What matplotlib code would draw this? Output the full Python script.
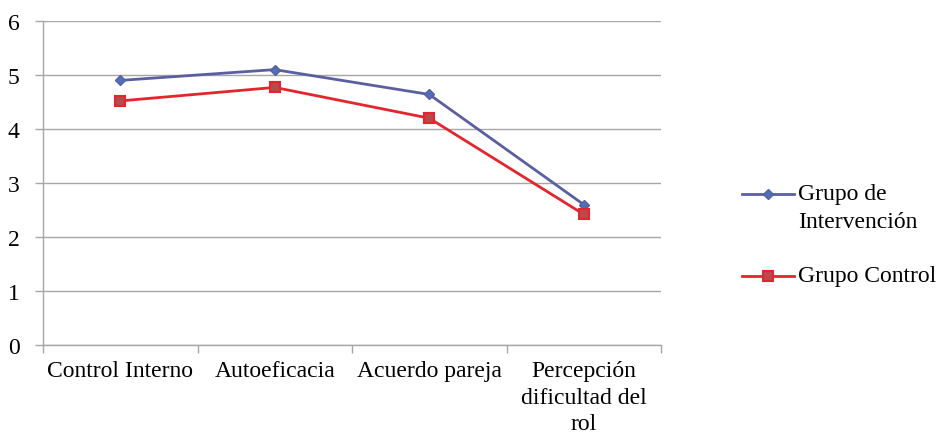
import matplotlib
matplotlib.use("Agg")
import matplotlib.pyplot as plt
from matplotlib.lines import Line2D

categories = ["Control Interno", "Autoeficacia", "Acuerdo pareja",
              "Percepción\ndificultad del\nrol"]
intervencion = [4.90, 5.10, 4.64, 2.60]
control = [4.52, 4.77, 4.20, 2.42]
series_labels = ["Grupo de\nIntervención", "Grupo Control"]
y_ticks = [0, 1, 2, 3, 4, 5, 6]

plt.rcParams["font.family"] = ["Liberation Serif", "DejaVu Serif"]
plt.rcParams["font.size"] = 17

W, H = 938, 435
fig = plt.figure(figsize=(W / 100, H / 100), dpi=100)
ax = fig.add_axes([43 / W, 1 - 346 / H, (661 - 43) / W, (346 - 22) / H])

x = list(range(len(categories)))
grid_c = "#a6a6a6"

blue_line = "#5a5fa0"
blue_mark = "#4f6fb8"
red_line = "#e3262d"
red_face = "#b84a4c"

blue_style = dict(color=blue_line, lw=2.0, marker="D", ms=5.5,
                  mfc=blue_mark, mec=blue_line, mew=1.0)
red_style = dict(color=red_line, lw=2.0, marker="s", ms=7,
                 mfc=red_face, mec=red_line, mew=1.5)

ax.plot(x, intervencion, zorder=3, **blue_style)
ax.plot(x, control, zorder=3, **red_style)

ax.set_xlim(-0.5, len(categories) - 0.5)
ax.set_ylim(0, 6)
ax.set_yticks(y_ticks)
ax.set_yticklabels([str(v) for v in y_ticks])
ax.yaxis.grid(True, color=grid_c, lw=1.0)
ax.set_axisbelow(True)

for s in ["top", "right"]:
    ax.spines[s].set_visible(False)
for s in ["left", "bottom"]:
    ax.spines[s].set_color(grid_c)
    ax.spines[s].set_linewidth(1.0)

# category labels at centres, tick marks at category boundaries
ax.set_xticks(x)
ax.set_xticklabels(categories, linespacing=1.33, va="top")
ax.tick_params(axis="x", which="major", length=0, pad=11)
ax.set_xticks([i - 0.5 for i in range(len(categories) + 1)], minor=True)
ax.tick_params(axis="x", which="minor", length=6, color=grid_c, width=1.0)
ax.tick_params(axis="y", length=6, color=grid_c, width=1.0, pad=11)

# legend drawn in figure pixels: handle aligned with the first text line
legend_rows = [(195, blue_style, 184), (277, red_style, 277)]
for (y_handle, style, y_text), label in zip(legend_rows, series_labels):
    fy = 1 - y_handle / H
    fig.add_artist(Line2D([742 / W, 794 / W], [fy, fy],
                          transform=fig.transFigure, markevery=[], **style))
    fig.add_artist(Line2D([768 / W], [fy], transform=fig.transFigure,
                          ls="none", **{k: v for k, v in style.items()
                                        if k != "lw"}))
    va = "top" if "\n" in label else "center"
    fig.text(798 / W, 1 - y_text / H, label, ha="left", va=va,
             linespacing=1.45)

fig.savefig("out.png", dpi=100)
